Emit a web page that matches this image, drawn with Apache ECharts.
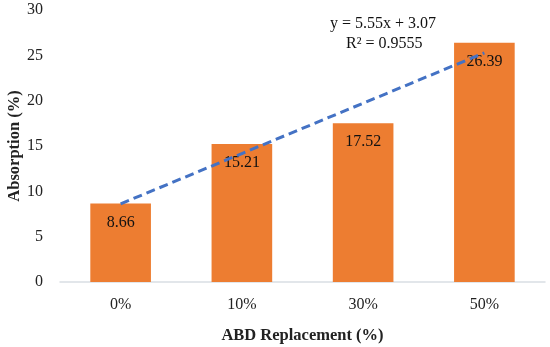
<!DOCTYPE html>
<html><head><meta charset="utf-8">
<script src="https://cdn.jsdelivr.net/npm/echarts@6/dist/echarts.min.js"></script>
<style>html,body{margin:0;padding:0;background:#fff}#c{width:550px;height:347px}</style>
</head><body><div id="c"></div>
<script>
const categories = ['0%', '10%', '30%', '50%'];
const absorption = [8.66, 15.21, 17.52, 26.39];
const trendValues = [8.62, 14.17, 19.72, 25.27];
const yTicks = [0, 5, 10, 15, 20, 25, 30];
const equationText = 'y = 5.55x + 3.07';
const r2Text = 'R² = 0.9555';
const FONT = 'Liberation Serif';

const chart = echarts.init(document.getElementById('c'), null, {renderer: 'canvas'});
chart.setOption({
  animation: false,
  textStyle: {fontFamily: FONT},
  grid: {left: 60, right: 5, top: 10, bottom: 65, containLabel: false, outerBoundsMode: 'none'},
  xAxis: {
    type: 'category', data: categories,
    axisTick: {show: false},
    axisLine: {lineStyle: {color: '#D9DEE3', width: 1.5}},
    axisLabel: {color: '#222', fontSize: 16, fontFamily: FONT, margin: 15},
    name: 'ABD Replacement (%)', nameLocation: 'middle', nameGap: 45, nameMoveOverlap: false,
    nameTextStyle: {color: '#222', fontSize: 16.5, fontWeight: 'bold', fontFamily: FONT}
  },
  yAxis: {
    type: 'value', min: yTicks[0], max: yTicks[yTicks.length - 1], interval: 5,
    splitLine: {show: false},
    axisLine: {show: false}, axisTick: {show: false},
    axisLabel: {color: '#222', fontSize: 16, fontFamily: FONT, margin: 17},
    name: 'Absorption (%)', nameLocation: 'middle', nameGap: 37, nameMoveOverlap: false,
    nameTextStyle: {color: '#222', fontSize: 16.5, fontWeight: 'bold', fontFamily: FONT}
  },
  series: [
    {
      type: 'bar', data: absorption, barWidth: '50%',
      itemStyle: {color: '#ED7D31'},
      label: {show: true, position: 'insideTop', distance: 11, color: '#111', fontSize: 16, fontFamily: FONT}
    },
    {
      type: 'line', data: trendValues, symbol: 'none', z: 5,
      lineStyle: {color: '#4472C4', width: 3, type: [9, 5]}
    }
  ],
  graphic: [
    {type: 'text', left: 330, top: 16, style: {text: equationText, fill: '#111', font: '16px "Liberation Serif"'}},
    {type: 'text', left: 346, top: 36, style: {text: r2Text, fill: '#111', font: '16px "Liberation Serif"'}}
  ]
});
</script></body></html>
